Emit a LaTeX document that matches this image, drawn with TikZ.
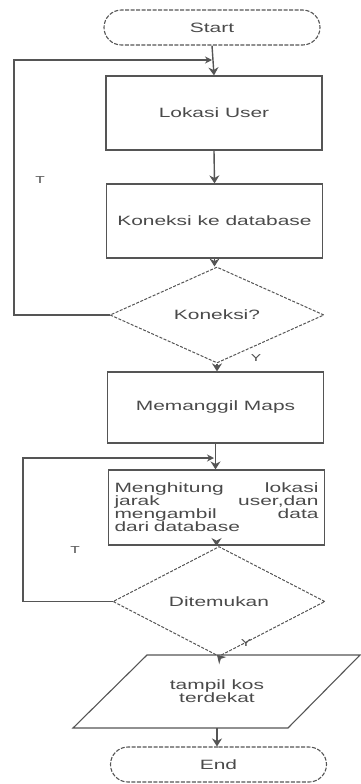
\documentclass[tikz,border=0pt]{standalone}
\usepackage{fontspec}
\setmainfont{Liberation Sans}
\newfontfamily\widesans[FakeStretch=1.55]{Liberation Sans}
\usetikzlibrary{arrows.meta,shapes.geometric,shapes.misc}
\definecolor{ink}{HTML}{555555}
\definecolor{txt}{HTML}{4A4A4A}
\tikzset{
  lbl/.style={font=\widesans\fontsize{13.5}{13}\selectfont, text=txt},
  terminal/.style={draw=ink, line width=1.1pt, dash pattern=on 4pt off 1.5pt,
    rounded rectangle, minimum width=216pt, minimum height=35pt, inner sep=0pt, lbl},
  process/.style={draw=ink, line width=1.2pt, rectangle,
    minimum width=216pt, minimum height=74pt, inner sep=0pt, lbl},
  decision/.style={draw=ink, line width=1pt, dash pattern=on 3pt off 1.5pt,
    diamond, minimum width=214pt, minimum height=70pt, inner sep=0pt, lbl},
  flow/.style={draw=ink, line width=1.4pt, -{Stealth[length=8pt,width=10pt]}},
  back/.style={draw=ink, line width=1.4pt, -{Stealth[length=7pt,width=7pt]}},
  tag/.style={font=\widesans\fontsize{10}{11}\selectfont, text=txt}
}
\begin{document}
\begin{tikzpicture}[x=1pt,y=-1pt]
  \useasboundingbox (0,0) rectangle (360,784);

  % main column
  \node[terminal] (start) at (212,27.5) {Start};
  \node[process] (lokasi) at (214,113) {Lokasi User};
  \node[process] (koneksi) at (214.5,221) {Koneksi ke database};
  \node[decision] (cek) at (217,315) {Koneksi?};
  \node[process, minimum height=71pt] (maps) at (215.5,407.5) {Memanggil Maps};
  \node[process, minimum height=75pt, text width=204pt, align=left] (hitung) at (216.5,507.5)
    {Menghitung\hfill lokasi\\jarak\hfill user,dan\\mengambil\hfill data\\dari database};
  \node[decision, minimum width=212pt] (temu) at (219,601.5) {Ditemukan};

  % output parallelogram
  \coordinate (pTL) at (147,655);
  \coordinate (pTR) at (360,655);
  \coordinate (pBR) at (288,728);
  \coordinate (pBL) at (73,728);
  \draw[ink, line width=1.1pt] (pTL) -- (pTR) -- (pBR) -- (pBL) -- cycle;
  \node[lbl, align=center] (tampil) at (217,691.5) {tampil kos\\terdekat};
  \coordinate (tampilN) at (217,655);
  \coordinate (tampilS) at (217,728);

  \node[terminal] (end) at (218.5,764.5) {End};

  % forward connectors
  \draw[flow] (start.south) -- (lokasi.north);
  \draw[flow] (lokasi.south) -- (koneksi.north);
  \draw[flow] (koneksi.south) -- (koneksi.south |- cek.north);
  \draw[flow] (cek.south) -- (cek.south |- maps.north);
  \draw[flow] (maps.south) -- (maps.south |- hitung.north);
  \draw[flow] (hitung.south) -- (hitung.south |- temu.north);
  \draw[flow] (temu.south) -- (tampilN);
  \draw[flow] (tampilS) -- (tampilS |- end.north);

  % loop-back connectors
  \coordinate (join1) at (212,60);
  \coordinate (join2) at (214,458);
  \draw[back] (cek.west) -| (14,60) -- (join1);
  \draw[back] (temu.west) -| (23,458) -- (join2);

  % branch labels
  \node[tag] (t1) at (40,180) {T};
  \node[tag] (y1) at (256,358) {Y};
  \node[tag] (t2) at (75,550) {T};
  \node[tag] (y2) at (246,643) {Y};
\end{tikzpicture}
\end{document}
